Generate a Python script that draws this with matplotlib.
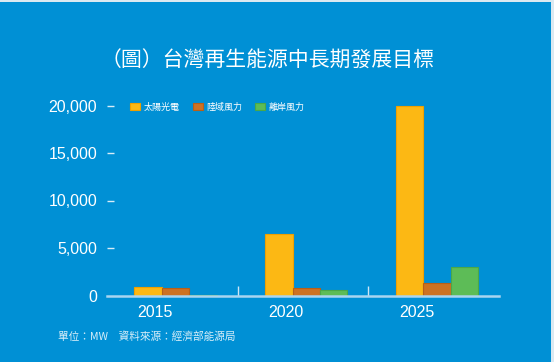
import numpy as np
import matplotlib.pyplot as plt
import matplotlib.transforms as mtransforms
from matplotlib.patches import Rectangle

# =========================
# DATA
# =========================

years = ["2015", "2020", "2025"]
series_names = ["太陽光電", "陸域風力", "離岸風力"]
solar = [900, 6500, 20000]
onshore = [740, 840, 1350]
offshore = [30, 570, 3000]
yticks = [0, 5000, 10000, 15000, 20000]

title = "（圖）台灣再生能源中長期發展目標"
note = "單位：MW　資料來源：經濟部能源局"

# =========================
# STYLE
# =========================

BG = "#0090d5"
colors = ["#fcb814", "#cd7222", "#5dbc57"]
edges = ["#f0a000", "#b85f18", "#4aa848"]
cjk = ["Noto Sans CJK TC", "DejaVu Sans"]
num = ["Liberation Sans", "DejaVu Sans"]

fig = plt.figure(figsize=(5.54, 3.62), dpi=100)
fig.patch.set_facecolor("#dbe9f1")
fig.patches.append(Rectangle((0, 0), 551 / 554, 360 / 362, transform=fig.transFigure,
                             facecolor=BG, edgecolor="none", zorder=-10))

ax = fig.add_axes([107 / 554, 66.5 / 362, 392 / 554, 199.5 / 362])
ax.set_facecolor("none")

x = np.arange(len(years))
w = 0.21
for i, vals in enumerate([solar, onshore, offshore]):
    ax.bar(x + (i - 1) * w + 0.025, vals, w, color=colors[i], edgecolor=edges[i],
           linewidth=0.8, label=series_names[i], zorder=3)

ax.set_xlim(-0.5, 2.5)
ax.set_ylim(0, 21000)

for s in ["top", "right", "left"]:
    ax.spines[s].set_visible(False)
ax.spines["bottom"].set_color("#a9d5f0")
ax.spines["bottom"].set_linewidth(1.8)
ax.spines["bottom"].set_zorder(4)

ax.set_yticks(yticks)
ax.set_yticklabels([f"{v:,}" for v in yticks], family=num, fontsize=11.5, color="white")
ax.tick_params(axis="y", direction="in", length=5, width=1, color="#d8ecf8", pad=7)
ax.yaxis.get_major_ticks()[0].tick1line.set_visible(False)

ax.set_xticks(x)
ax.set_xticklabels(years, family=num, fontsize=11.5, color="white")
ax.tick_params(axis="x", length=0, pad=7)
ax.set_xticks([0.5, 1.5], minor=True)
ax.tick_params(axis="x", which="minor", direction="in", length=7, width=1, color="#cfe6f6")

shift = mtransforms.ScaledTranslation(-0.17, 0, fig.dpi_scale_trans)
for lab in ax.get_xticklabels():
    lab.set_transform(lab.get_transform() + shift)

leg = ax.legend(loc="center left", bbox_to_anchor=(0.05, 0.945), ncol=3, frameon=False,
                prop={"family": cjk, "size": 6.5}, handlelength=1.1, handleheight=0.8,
                handletextpad=0.35, columnspacing=1.5, borderaxespad=0)
for t in leg.get_texts():
    t.set_color("white")

fig.text(268 / 554, 1 - 61 / 362, title, family=cjk, fontsize=15, color="white",
         ha="center", va="center")
fig.text(58 / 554, 1 - 337 / 362, note, family=cjk, fontsize=7.7, color="white",
         alpha=0.85, ha="left", va="center")

fig.savefig("out.png", dpi=100, facecolor=fig.get_facecolor())
